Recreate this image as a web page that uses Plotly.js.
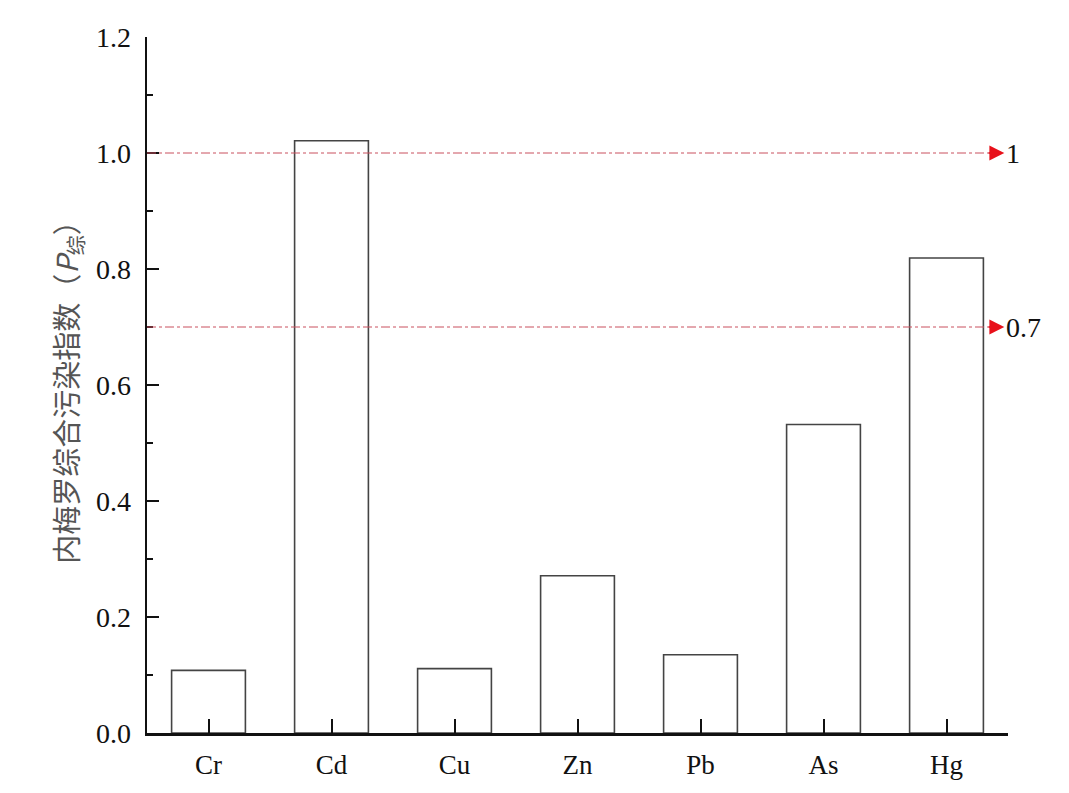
<!DOCTYPE html>
<html>
<head>
<meta charset="utf-8">
<script src="https://cdn.plot.ly/plotly-3.0.1.min.js"></script>
<style>html,body{margin:0;padding:0;background:#fff;}#chart{width:1069px;height:793px;}</style>
</head>
<body>
<div id="chart"></div>
<script>
const categories = ['Cr', 'Cd', 'Cu', 'Zn', 'Pb', 'As', 'Hg'];
const nemerowIndex = [0.108, 1.021, 0.111, 0.271, 0.135, 0.532, 0.819];
const refLevels = [1, 0.7];
const refLabels = ['1', '0.7'];
const yTickVals = [0, 0.2, 0.4, 0.6, 0.8, 1.0, 1.2];
const yTickText = ['0.0', '0.2', '0.4', '0.6', '0.8', '1.0', '1.2'];

const serif = 'Liberation Serif, Times New Roman, serif';
const xIdx = categories.map((c, i) => i);

const traces = [
  {
    type: 'bar',
    x: xIdx,
    y: nemerowIndex,
    width: 0.6,
    marker: {color: 'rgba(255,255,255,0)', line: {color: '#444', width: 1.6}},
    hoverinfo: 'y'
  }
];

const shapes = refLevels.map(v => ({
  type: 'line', xref: 'x', yref: 'y',
  x0: -0.5, x1: 6.36, y0: v, y1: v,
  line: {color: '#c9505e', width: 1, dash: 'dashdot'}
}));

const arrows = refLevels.map(v => ({
  x: 6.47, y: v, xref: 'x', yref: 'y',
  ax: 6.33, ay: v, axref: 'x', ayref: 'y',
  text: '', showarrow: true,
  arrowhead: 2, arrowsize: 2.3, arrowwidth: 1.3, arrowcolor: '#e8101a',
  standoff: 0
}));

const labels = refLevels.map((v, i) => ({
  x: 6.47, y: v, xref: 'x', yref: 'y',
  text: refLabels[i], showarrow: false,
  xanchor: 'left', yanchor: 'middle',
  font: {family: serif, size: 28, color: '#111'}
}));

const layout = {
  width: 1069, height: 793,
  margin: {l: 147, r: 61, t: 37, b: 60},
  paper_bgcolor: '#fff', plot_bgcolor: '#fff',
  showlegend: false,
  bargap: 0.4,
  xaxis: {
    range: [-0.5, 6.5],
    tickvals: xIdx, ticktext: categories,
    ticks: 'inside', ticklen: 14, tickwidth: 2, tickcolor: '#111',
    ticklabelstandoff: 6,
    showline: true, linecolor: '#111', linewidth: 2.5,
    showgrid: false, zeroline: false,
    tickfont: {family: serif, size: 27, color: '#111'},
    fixedrange: true
  },
  yaxis: {
    range: [0, 1.2],
    tickvals: yTickVals, ticktext: yTickText,
    ticks: 'inside', ticklen: 12, tickwidth: 2.5, tickcolor: '#111',
    ticklabelstandoff: 8,
    minor: {dtick: 0.1, ticks: 'inside', ticklen: 6, tickwidth: 2, tickcolor: '#111'},
    showline: true, linecolor: '#111', linewidth: 2.5,
    showgrid: false, zeroline: false,
    tickfont: {family: serif, size: 28, color: '#111'},
    title: {
      text: '内梅罗综合污染指数（<i>P</i><sub>综</sub>）',
      font: {family: 'Noto Sans CJK SC, sans-serif', size: 29, color: '#555'},
      standoff: 9
    },
    fixedrange: true
  },
  shapes: shapes,
  annotations: arrows.concat(labels)
};

Plotly.newPlot('chart', traces, layout, {displayModeBar: false, staticPlot: true});
</script>
</body>
</html>
